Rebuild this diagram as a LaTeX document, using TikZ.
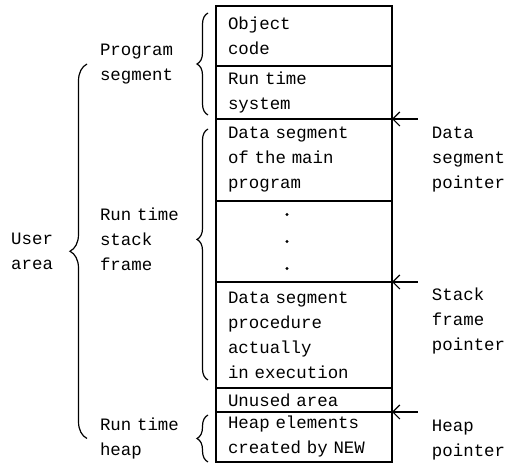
\documentclass[tikz,border=0pt]{standalone}
\usepackage{fontspec}
\setmonofont{Liberation Mono}
\usetikzlibrary{arrows.meta,positioning,decorations.pathreplacing}
\newcommand{\typefont}{\fontsize{8.7}{12.5}\selectfont\ttfamily}

\begin{document}
\begin{tikzpicture}[>={Straight Barb[length=3.5pt,width=7pt]},line width=0.6pt,
  cell/.style={draw,line width=0.7pt,outer sep=0pt,text width=76pt,inner xsep=6pt,inner ysep=0pt,align=left,font=\typefont},
  lbl/.style={inner sep=0pt,outer sep=0pt,align=left,font=\typefont},
  leftlbl/.style={lbl,text width=43pt},
  curly/.style={decorate,decoration={brace,amplitude=5.5pt,raise=4pt}},
  ptr/.style={->}]

  \useasboundingbox (0,0) rectangle (258pt,-232.5pt);

  \node[cell,minimum height=30pt,anchor=north west] (obj) at (108pt,-3pt) {Object\\code};
  \node[cell,minimum height=26.5pt,below=0pt of obj] (rts) {Run time\\system};
  \node[cell,minimum height=41pt,below=0pt of rts] (dsm) {Data segment\\of the main\\program};
  \node[cell,minimum height=40.5pt,below=0pt of dsm] (dots) {};
  \node[cell,minimum height=53pt,below=0pt of dots] (dsp) {Data segment\\procedure\\actually\\in execution};
  \node[cell,minimum height=12pt,below=0pt of dsp] (unused) {Unused area};
  \node[cell,minimum height=25pt,below=0pt of unused] (heap) {Heap elements\\created by NEW};

  \foreach \dy in {13.5pt,0pt,-13.5pt}
    \fill ([xshift=-8.5pt,yshift=\dy]dots.center) circle (0.8pt);

  \draw[curly] ([yshift=2pt]rts.south west) -- ([yshift=-3.5pt]obj.north west)
    node[midway,left=15pt,leftlbl] (prglbl) {Program\\segment};
  \draw[curly,decoration={aspect=0.56}] ([yshift=4pt]dsp.south west) -- ([yshift=-5pt]dsm.north west)
    node[pos=0.56,left=15pt,leftlbl] (stklbl) {Run time\\stack\\frame};
  \draw[curly] (heap.south west) -- ([yshift=-1.5pt]heap.north west)
    node[midway,left=15pt,leftlbl] (heaplbl) {Run time\\heap};
  \draw[decorate,decoration={brace,amplitude=8.5pt}]
    ([xshift=-6.5pt]heaplbl.west) -- ([xshift=-6.5pt]prglbl.west)
    node[midway,left=17pt,lbl] (usrlbl) {User\\area};

  \node[lbl,right=20pt of dsm.north east,anchor=north west,yshift=-4pt] (dsmlbl) {Data\\segment\\pointer};
  \node[lbl,right=20pt of dsp.north east,anchor=north west,yshift=-3pt] (dsplbl) {Stack\\frame\\pointer};
  \node[lbl,right=20pt of heap.north east,anchor=north west,yshift=-4pt] (heaplbl2) {Heap\\pointer};

  \coordinate (dsmtail) at ([xshift=13pt]dsm.north east);
  \coordinate (dsptail) at ([xshift=13pt]dsp.north east);
  \coordinate (heaptail) at ([xshift=13pt]heap.north east);
  \draw[ptr] (dsmtail) -- (dsm.north east);
  \draw[ptr] (dsptail) -- (dsp.north east);
  \draw[ptr] (heaptail) -- (heap.north east);
\end{tikzpicture}
\end{document}
